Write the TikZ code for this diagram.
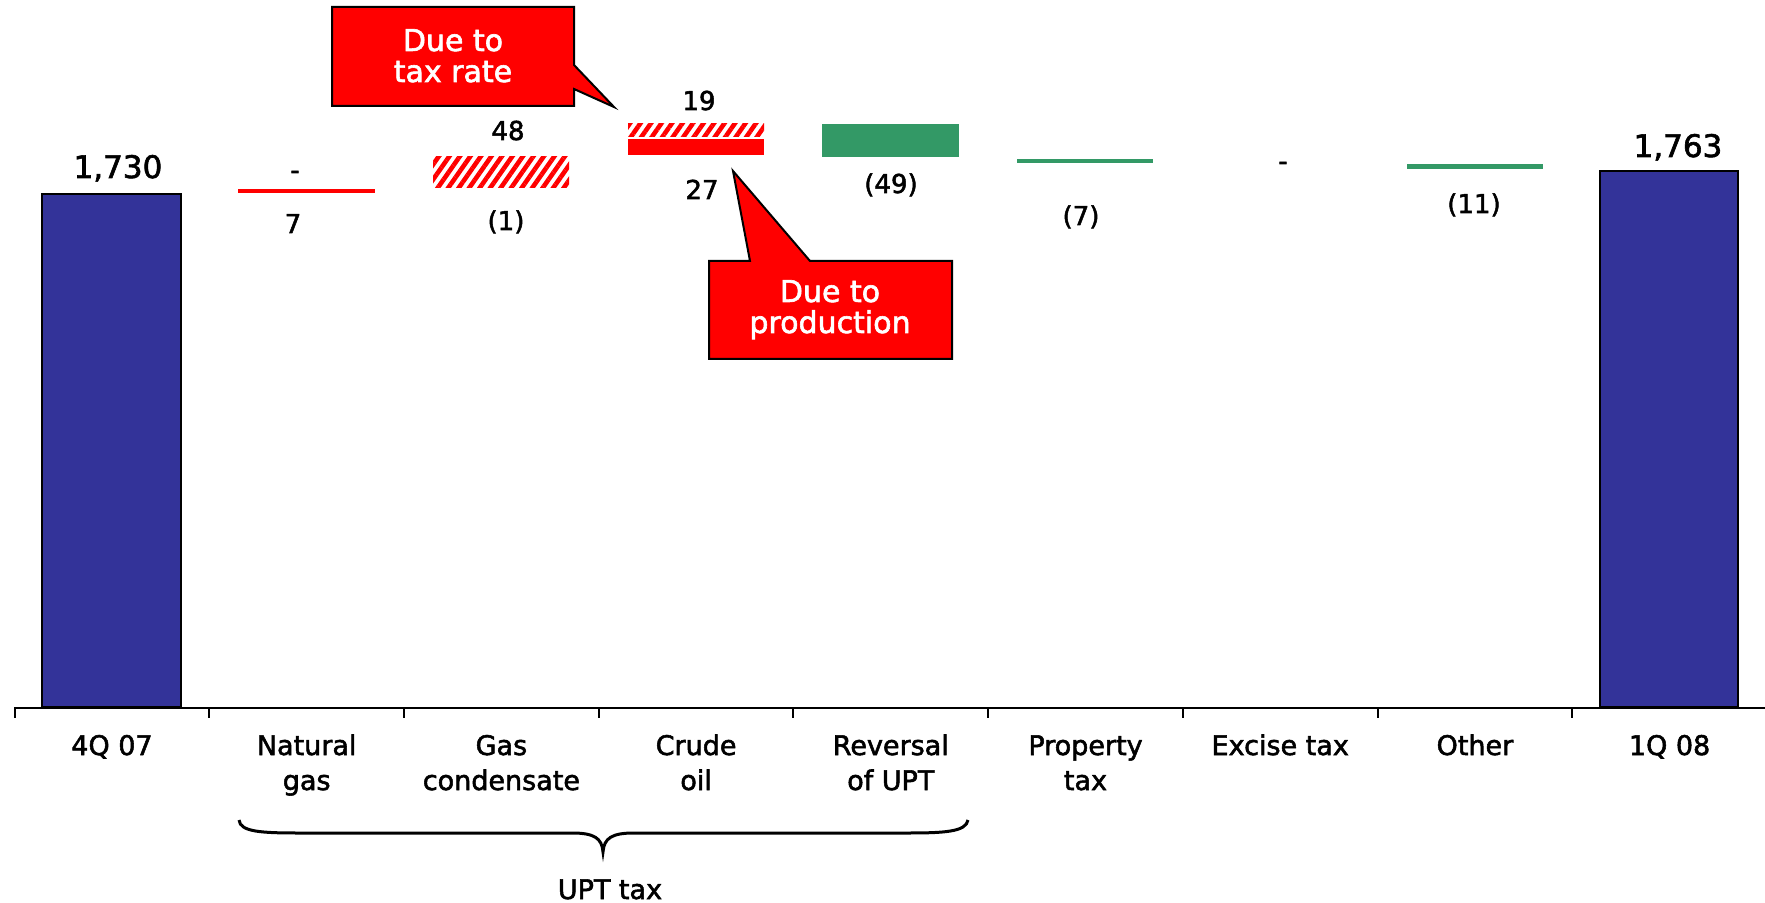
\documentclass[tikz,border=0pt]{standalone}
\usepackage{fontspec}
\setmainfont{DejaVu Sans}[FakeBold=2]
\usepackage{tikz}
\usetikzlibrary{patterns.meta}
\definecolor{barblue}{HTML}{333399}
\definecolor{upgreen}{HTML}{339966}
\tikzset{
    vallabel/.style={font=\fontsize{13}{15}\selectfont},
    totlabel/.style={font=\fontsize{15.5}{18}\selectfont},
    catlabel/.style={align=center, font=\fontsize{13.5}{17.5}\selectfont},
    tagbox/.style={fill=red, draw=black, line width=1pt, line join=miter},
    tagtext/.style={align=center, text=white, font=\fontsize{15}{15.5}\selectfont},
    hatched/.style={pattern={Lines[angle=55, distance=4.3pt, line width=2.3pt]}, pattern color=red},
    endbar/.style={fill=barblue, draw=black, line width=0.6pt}
}

\begin{document}
\begin{tikzpicture}[x=0.5pt, y=-0.5pt]
    \useasboundingbox (0,0) rectangle (1765,903);

    \filldraw[endbar] (42,194) rectangle (181,707);
    \filldraw[endbar] (1600,171) rectangle (1738,707);

    \draw[red, line width=1.8pt] (238,191) -- (375,191);
    \fill[hatched] (433,157) rectangle (569,188);
    \fill[hatched] (628,124) rectangle (764,137);
    \fill[red] (628,139) rectangle (764,155);
    \fill[upgreen] (822,124) rectangle (959,157);
    \draw[upgreen, line width=1.6pt] (1017,161) -- (1153,161);
    \draw[upgreen, line width=2.5pt] (1407,167) -- (1543,167);

    \draw[line width=1pt] (14.6,707.5) -- (1765,707.5);
    \draw[line width=1pt] (14.6,707) -- (14.6,718) (209.3,707) -- (209.3,718)
        (404,707) -- (404,718) (598.7,707) -- (598.7,718) (793.4,707) -- (793.4,718)
        (988.1,707) -- (988.1,718) (1182.8,707) -- (1182.8,718)
        (1377.5,707) -- (1377.5,718) (1572.2,707) -- (1572.2,718);

    \node[totlabel, anchor=base] (START) at (118,178) {1,730};
    \node[vallabel] (NGDASH) at (295,175) {-};
    \node[vallabel, anchor=base] (NGVAL) at (293,233) {7};
    \node[vallabel, anchor=base] (GCUP) at (508,140) {48};
    \node[vallabel, anchor=base] (GCDOWN) at (506,230) {(1)};
    \node[vallabel, anchor=base] (COUP) at (699,110) {19};
    \node[vallabel, anchor=base] (CODOWN) at (702,199) {27};
    \node[vallabel, anchor=base] (REVVAL) at (891,193) {(49)};
    \node[vallabel, anchor=base] (PROPVAL) at (1081,225) {(7)};
    \node[vallabel] (EXDASH) at (1283,166) {-};
    \node[vallabel, anchor=base] (OTHVAL) at (1474,213) {(11)};
    \node[totlabel, anchor=base] (FINISH) at (1678,157) {1,763};

    \node[catlabel, anchor=base] (Q407) at (112,755) {4Q 07};
    \node[catlabel, anchor=base] (NATGAS) at (306.7,790) {Natural\\gas};
    \node[catlabel, anchor=base] (GASCOND) at (501.4,790) {Gas\\condensate};
    \node[catlabel, anchor=base] (CRUDE) at (696.1,790) {Crude\\oil};
    \node[catlabel, anchor=base] (REVUPT) at (890.8,790) {Reversal\\of UPT};
    \node[catlabel, anchor=base] (PROPTAX) at (1085.5,790) {Property\\tax};
    \node[catlabel, anchor=base] (EXCISE) at (1280.2,755) {Excise tax};
    \node[catlabel, anchor=base] (OTHER) at (1474.9,755) {Other};
    \node[catlabel, anchor=base] (Q108) at (1669.6,755) {1Q 08};

    \draw[line width=1.5pt] (239,820) .. controls (240,832) and (262,833) .. (300,833)
        -- (572,833) .. controls (594,833) and (602,838) .. (603,852)
        .. controls (604,838) and (612,833) .. (634,833)
        -- (906,833) .. controls (944,833) and (966,832) .. (968,820);
    \node[catlabel, anchor=base] (UPTTAX) at (610,899) {UPT tax};

    \filldraw[tagbox] (332,7) -- (574,7) -- (574,65) -- (614,107) -- (574,89)
        -- (574,106) -- (332,106) -- cycle;
    \node[tagtext, anchor=base] (TAXRATE) at (453,82) {Due to\\tax rate};

    \filldraw[tagbox] (709,261) -- (750,261) -- (733,171) -- (810,261)
        -- (952,261) -- (952,359) -- (709,359) -- cycle;
    \node[tagtext, anchor=base] (PRODUCTION) at (830,333) {Due to\\production};

    %\draw[help lines] (0,0) grid (1765,903);
\end{tikzpicture}
\end{document}
